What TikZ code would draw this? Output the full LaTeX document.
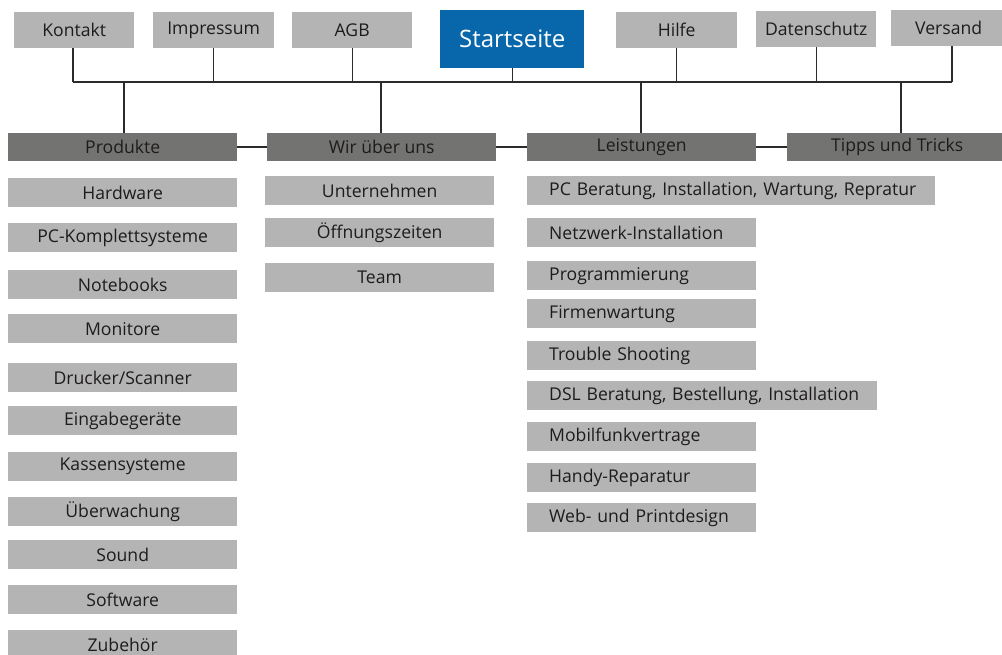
\documentclass[tikz,border=0pt]{standalone}
\usepackage{fontspec}
\setmainfont{Open Sans}
\definecolor{lg}{HTML}{B4B4B4}
\definecolor{dg}{HTML}{737472}
\definecolor{bl}{HTML}{0866AA}
\definecolor{txt}{HTML}{1E1B1C}
\definecolor{ln}{HTML}{2B2B2B}
\begin{document}
\begin{tikzpicture}[x=1pt,y=-1pt,
  base/.style={inner sep=0pt, anchor=north west, text=txt, font=\fontsize{17.6}{19}\selectfont},
  topbox/.style={base, fill=lg, minimum height=36pt},
  catbox/.style={base, fill=dg, minimum height=28pt, minimum width=229pt},
  subbox/.style={base, fill=lg, minimum height=29pt, minimum width=229pt},
  lbox/.style={base, fill=lg, minimum height=29pt, align=left},
  conn/.style={draw=ln, line width=1.4pt}]
\useasboundingbox (0,0) rectangle (1002,655);

% top row
\node[topbox, minimum width=120pt] (kontakt) at (14,12) {Kontakt};
\node[topbox, minimum width=121pt] (impressum) at (153,12) {Impressum};
\node[topbox, minimum width=120pt] (agb) at (292,12) {AGB};
\node[base, fill=bl, minimum width=144pt, minimum height=58pt, text=white, font=\fontsize{24}{26}\selectfont] (start) at (440,10) {Startseite};
\node[topbox, minimum width=121pt] (hilfe) at (616,12) {Hilfe};
\node[topbox, minimum width=120pt] (datenschutz) at (756,11) {Datenschutz};
\node[topbox, minimum width=115pt] (versand) at (891,10) {Versand};

% bus
\coordinate (busL) at (73,82);
\coordinate (busR) at (952,82);
\coordinate (b1) at (124,82);
\coordinate (b2) at (381,82);
\coordinate (b3) at (641,82);
\coordinate (b4) at (901,82);
\draw[conn] (busL) -- (busR);
\draw[conn] (kontakt.south -| busL) -- (busL);
\draw[conn] (impressum.south) -- (impressum.south |- busL);
\draw[conn] (agb.south) -- (agb.south |- busL);
\draw[conn] (start.south) -- (start.south |- busL);
\draw[conn] (hilfe.south) -- (hilfe.south |- busL);
\draw[conn] (datenschutz.south) -- (datenschutz.south |- busL);
\draw[conn] (versand.south -| busR) -- (busR);

% categories
\node[catbox] (produkte) at (8,133) {Produkte};
\node[catbox] (wir) at (267,133) {Wir über uns};
\node[catbox] (leistungen) at (527,133) {Leistungen};
\node[catbox, minimum width=220pt] (tipps) at (787,133) {Tipps und Tricks};
\draw[conn] (b1) -- (b1 |- produkte.north);
\draw[conn] (b2) -- (b2 |- wir.north);
\draw[conn] (b3) -- (b3 |- leistungen.north);
\draw[conn] (b4) -- (b4 |- tipps.north);
\draw[conn] (produkte.east) -- (wir.west);
\draw[conn] (wir.east) -- (leistungen.west);
\draw[conn] (leistungen.east) -- (tipps.west);

% Produkte
\node[subbox] (p1) at (8,178) {Hardware};
\node[subbox] (p2) at (8,223) {PC-Komplettsysteme};
\node[subbox] (p3) at (8,270) {Notebooks};
\node[subbox] (p4) at (8,314) {Monitore};
\node[subbox] (p5) at (8,363) {Drucker/Scanner};
\node[subbox] (p6) at (8,406) {Eingabegeräte};
\node[subbox] (p7) at (8,452) {Kassensysteme};
\node[subbox] (p8) at (8,497) {Überwachung};
\node[subbox] (p9) at (8,540) {Sound};
\node[subbox] (p10) at (8,585) {Software};
\node[subbox] (p11) at (8,630) {Zubehör};

% Wir über uns
\node[subbox] (w1) at (265,176) {Unternehmen};
\node[subbox] (w2) at (265,218) {Öffnungszeiten};
\node[subbox] (w3) at (265,263) {Team};

% Leistungen
\node[lbox, minimum width=408pt, text width=408pt] (l1) at (527,176) {\hspace*{22pt}PC Beratung, Installation, Wartung, Repratur};
\node[lbox, minimum width=229pt, text width=229pt] (l2) at (527,218) {\hspace*{22pt}Netzwerk-Installation};
\node[lbox, minimum width=229pt, text width=229pt] (l3) at (527,261) {\hspace*{22pt}Programmierung};
\node[lbox, minimum width=229pt, text width=229pt] (l4) at (527,299) {\hspace*{22pt}Firmenwartung};
\node[lbox, minimum width=229pt, text width=229pt] (l5) at (527,341) {\hspace*{22pt}Trouble Shooting};
\node[lbox, minimum width=350pt, text width=350pt] (l6) at (527,381) {\hspace*{22pt}DSL Beratung, Bestellung, Installation};
\node[lbox, minimum width=229pt, text width=229pt] (l7) at (527,422) {\hspace*{22pt}Mobilfunkvertrage};
\node[lbox, minimum width=229pt, text width=229pt] (l8) at (527,463) {\hspace*{22pt}Handy-Reparatur};
\node[lbox, minimum width=229pt, text width=229pt] (l9) at (527,503) {\hspace*{22pt}Web- und Printdesign};
\end{tikzpicture}
\end{document}
